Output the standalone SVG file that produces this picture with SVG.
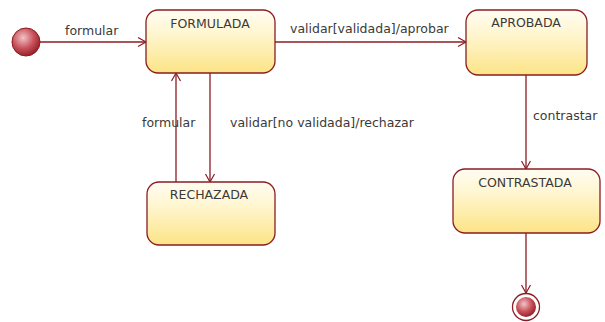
<svg xmlns="http://www.w3.org/2000/svg" width="605" height="322" viewBox="0 0 605 322">
<defs>
<linearGradient id="stateFill" x1="0" y1="0" x2="0" y2="1">
<stop offset="0" stop-color="#fffdf2"/>
<stop offset="0.35" stop-color="#fff6d2"/>
<stop offset="1" stop-color="#fce486"/>
</linearGradient>
<radialGradient id="ballFill" cx="0.4" cy="0.35" r="0.7">
<stop offset="0" stop-color="#f0c4c8"/>
<stop offset="0.55" stop-color="#c9505a"/>
<stop offset="1" stop-color="#8e1b24"/>
</radialGradient>
<marker id="arrow" markerWidth="12" markerHeight="12" refX="9" refY="5" orient="auto" markerUnits="userSpaceOnUse">
<path d="M1,0.5 L9,5 L1,9.5" fill="none" stroke="#8b1c22" stroke-width="1.2"/>
</marker>
</defs>
<style>
.state { fill: url(#stateFill); stroke: #8b1c22; stroke-width: 1.3; }
.name { font-family: "DejaVu Sans", "Liberation Sans", sans-serif; font-size: 12.5px; fill: #3a3a3a; text-anchor: middle; }
.label { font-family: "DejaVu Sans", "Liberation Sans", sans-serif; font-size: 12.5px; fill: #3a3a3a; }
.conn { stroke: #8b1c22; stroke-width: 1.3; fill: none; marker-end: url(#arrow); }
</style>
<rect width="605" height="322" fill="#ffffff"/>
<g id="connectors">
<line class="conn" x1="40" y1="42" x2="146" y2="42"/>
<line class="conn" x1="275" y1="42" x2="466" y2="42"/>
<line class="conn" x1="210" y1="73" x2="210" y2="182"/>
<line class="conn" x1="176" y1="182" x2="176" y2="73"/>
<line class="conn" x1="526" y1="75" x2="526" y2="169"/>
<line class="conn" x1="526" y1="233" x2="526" y2="293"/>
<text class="label" x="65" y="35">formular</text>
<text class="label" x="290" y="33">validar[validada]/aprobar</text>
<text class="label" x="142" y="127">formular</text>
<text class="label" x="230" y="127">validar[no validada]/rechazar</text>
<text class="label" x="533" y="120">contrastar</text>
</g>
<g id="initial">
<circle cx="26" cy="42" r="14" fill="url(#ballFill)" stroke="#8b1c22" stroke-width="1"/>
</g>
<g id="formulada">
<rect class="state" x="146" y="10" width="129" height="63" rx="12" ry="12"/>
<text class="name" x="210" y="28">FORMULADA</text>
</g>
<g id="aprobada">
<rect class="state" x="466" y="10" width="121" height="65" rx="12" ry="12"/>
<text class="name" x="526" y="27">APROBADA</text>
</g>
<g id="rechazada">
<rect class="state" x="147" y="182" width="128" height="63" rx="12" ry="12"/>
<text class="name" x="209" y="199">RECHAZADA</text>
</g>
<g id="contrastada">
<rect class="state" x="453" y="169" width="147" height="64" rx="12" ry="12"/>
<text class="name" x="525" y="187">CONTRASTADA</text>
</g>
<g id="final">
<circle cx="526" cy="307" r="13.5" fill="#ffffff" stroke="#8b1c22" stroke-width="1.3"/>
<circle cx="526" cy="307" r="10" fill="url(#ballFill)"/>
</g>
</svg>
